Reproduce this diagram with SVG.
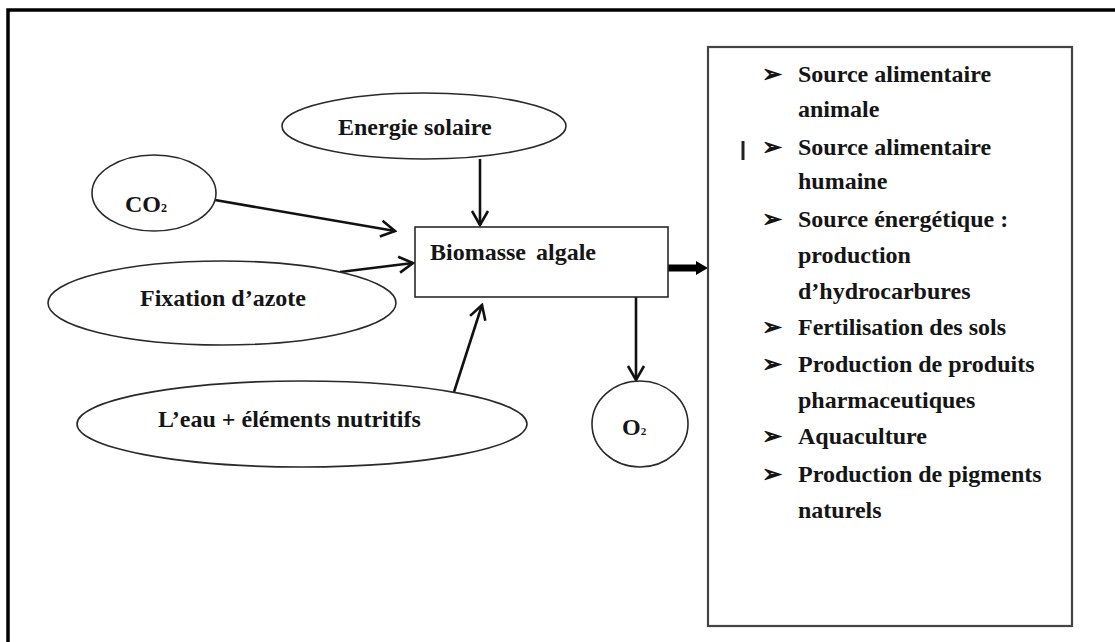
<svg xmlns="http://www.w3.org/2000/svg" width="1115" height="642" viewBox="0 0 1115 642">
<style>
  .lbl { font-family: "Liberation Serif", "Times New Roman", serif; font-weight: bold; font-size: 24px; fill: #151515; }
  .shape { fill: #fff; stroke: #2a2a2a; stroke-width: 1.6; }
  .conn { fill: none; stroke: #111; stroke-width: 2.6; marker-end: url(#open); }
</style>
<defs>
  <marker id="open" markerUnits="userSpaceOnUse" viewBox="-16 -10 18 20" refX="0" refY="0" markerWidth="18" markerHeight="20" orient="auto">
    <path d="M-14,-8 L0,0 L-14,8" fill="none" stroke="#111" stroke-width="2.6" stroke-linejoin="miter"/>
  </marker>
</defs>
<rect width="1115" height="642" fill="#fff"/>
<rect x="8" y="10" width="1200" height="700" fill="none" stroke="#000" stroke-width="3.5"/>

<g id="connectors">
  <line class="conn" x1="480" y1="159" x2="480" y2="225"/>
  <line class="conn" x1="215" y1="200" x2="395" y2="231"/>
  <line class="conn" x1="340" y1="272" x2="413" y2="263"/>
  <line class="conn" x1="454" y1="392" x2="482" y2="305"/>
  <line class="conn" x1="636" y1="297" x2="636" y2="380"/>
  <polygon points="668,264.5 696,264.5 696,261 708,268 696,275 696,271.5 668,271.5" fill="#000"/>
</g>

<g id="energie">
  <ellipse class="shape" cx="424" cy="126" rx="142" ry="33"/>
  <text class="lbl" x="338" y="135">Energie solaire</text>
</g>
<g id="co2">
  <ellipse class="shape" cx="154" cy="193" rx="62" ry="38"/>
  <text class="lbl" x="125" y="212" font-size="22">CO<tspan font-size="12">2</tspan></text>
</g>
<g id="fixation">
  <ellipse class="shape" cx="222" cy="303" rx="174" ry="42"/>
  <text class="lbl" x="140" y="306">Fixation d’azote</text>
</g>
<g id="eau">
  <ellipse class="shape" cx="302" cy="424" rx="225" ry="43"/>
  <text class="lbl" x="158" y="427">L’eau + éléments nutritifs</text>
</g>
<g id="biomasse">
  <rect class="shape" x="415" y="227" width="253" height="70"/>
  <text class="lbl" x="430" y="260" word-spacing="4">Biomasse algale</text>
</g>
<g id="o2">
  <ellipse class="shape" cx="640" cy="424" rx="48" ry="43"/>
  <text class="lbl" x="622" y="435" font-size="20">O<tspan font-size="11">2</tspan></text>
</g>
<g id="utilisations">
  <rect x="708" y="47" width="364" height="579" fill="#fff" stroke="#444" stroke-width="2.2"/>
  <line x1="743" y1="141" x2="743" y2="160" stroke="#222" stroke-width="3"/>
  <g class="lbl">
    <text x="762" y="82">➢</text><text x="798" y="82">Source alimentaire</text>
    <text x="798" y="117">animale</text>
    <text x="762" y="155">➢</text><text x="798" y="155">Source alimentaire</text>
    <text x="798" y="189">humaine</text>
    <text x="762" y="227">➢</text><text x="798" y="227">Source énergétique :</text>
    <text x="798" y="263">production</text>
    <text x="798" y="299">d’hydrocarbures</text>
    <text x="762" y="335">➢</text><text x="798" y="335">Fertilisation des sols</text>
    <text x="762" y="372">➢</text><text x="798" y="372">Production de produits</text>
    <text x="798" y="408">pharmaceutiques</text>
    <text x="762" y="444">➢</text><text x="798" y="444">Aquaculture</text>
    <text x="762" y="482">➢</text><text x="798" y="482">Production de pigments</text>
    <text x="798" y="518">naturels</text>
  </g>
</g>
</svg>
